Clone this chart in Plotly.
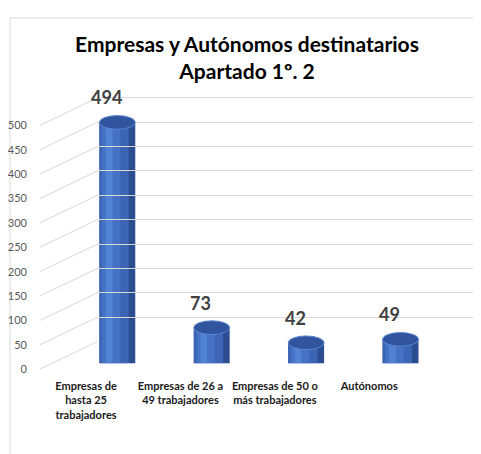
import plotly.graph_objects as go

categories = ["Empresas de hasta 25 trabajadores", "Empresas de 26 a 49 trabajadores",
              "Empresas de 50 o más trabajadores", "Autónomos"]
tick_text = ["<b>Empresas de<br>hasta 25<br>trabajadores</b>",
             "<b>Empresas de 26 a<br>49 trabajadores</b>",
             "<b>Empresas de 50 o<br>más trabajadores</b>", "<b>Autónomos</b>"]
values = [494, 73, 42, 49]
y_ticks = [0, 50, 100, 150, 200, 250, 300, 350, 400, 450, 500]

W, H = 481, 454
OFF_X, OFF_Y = 8, 2  # page offset seen in the screenshot
FONT = "Lato, 'Open Sans', sans-serif"
YMAX = 560


def px_x(p):
    return (p - OFF_X) / W


def px_y(p):
    return (H - (p - OFF_Y)) / H


# three vertical scales: bars (front), tick labels, back wall grid
bar_dom = [px_y(362), px_y(362 - YMAX * 0.494)]
lab_dom = [px_y(368), px_y(368 - YMAX * 0.494)]
grid_dom = [px_y(340), px_y(340 - YMAX * 0.494)]


def to_paper(v, dom):
    return dom[0] + v / YMAX * (dom[1] - dom[0])


fig = go.Figure()
# cylinder body, layered for shading
for w, off, col in [(0.38, -0.19, "#2D4D92"), (0.31, -0.19, "#3D65B5"),
                    (0.19, -0.16, "#4672C6"), (0.07, -0.12, "#5282D2")]:
    fig.add_trace(go.Bar(x=categories, y=values, width=w, offset=off,
                         marker=dict(color=col, line=dict(width=0)),
                         hoverinfo="skip", showlegend=False))
fig.add_trace(go.Scatter(x=[0, 1], y=[0, 0], xaxis="x3", yaxis="y3",
                         mode="markers", marker=dict(opacity=0), showlegend=False,
                         hoverinfo="skip"))
fig.add_trace(go.Scatter(x=[0], y=[0], xaxis="x2", yaxis="y2", mode="markers",
                         marker=dict(opacity=0), showlegend=False, hoverinfo="skip"))

shapes = []
for i, v in enumerate(values):
    # bottom and top ellipses of the cylinder
    shapes.append(dict(type="circle", xref="x", yref="y", x0=i - 0.19, x1=i + 0.19,
                       y0=-14, y1=14, fillcolor="#3A5FAE",
                       line=dict(width=0), layer="below"))
    shapes.append(dict(type="circle", xref="x", yref="y", x0=i - 0.19, x1=i + 0.19,
                       y0=v - 14, y1=v + 14, fillcolor="#30549E",
                       line=dict(color="#5A84CF", width=1), layer="above"))
for t in y_ticks:
    shapes.append(dict(type="line", xref="paper", yref="paper",
                       x0=px_x(37), x1=px_x(95),
                       y0=to_paper(t, lab_dom), y1=to_paper(t, grid_dom),
                       line=dict(color="#D9D9D9", width=1), layer="below"))
# chart frame
shapes.append(dict(type="rect", xref="paper", yref="paper", x0=px_x(7), x1=1.05,
                   y0=-0.05, y1=px_y(12), line=dict(color="#D9D9D9", width=1),
                   layer="below"))

annotations = []
for c, v in zip(categories, values):
    annotations.append(dict(x=c, y=v, xref="x", yref="y", text="<b>%d</b>" % v,
                            showarrow=False, yshift=25, xshift=-11,
                            font=dict(family=FONT, size=18, color="#404040")))

fig.update_layout(
    width=W, height=H,
    margin=dict(l=0, r=0, t=0, b=0),
    paper_bgcolor="white", plot_bgcolor="rgba(0,0,0,0)",
    barmode="overlay",
    title=dict(text="<b>Empresas y Autónomos destinatarios<br>Apartado 1º. 2</b>",
               x=px_x(247), xanchor="center", y=1 - 44 / H, yanchor="top",
               font=dict(family=FONT, size=21, color="#000000")),
    font=dict(family=FONT),
    xaxis=dict(domain=[px_x(67.5), px_x(447.5)], range=[-0.5, 3.5],
               showticklabels=False, showgrid=False, zeroline=False,
               showline=False, ticks=""),
    yaxis=dict(domain=bar_dom, range=[0, YMAX], showgrid=False, zeroline=False,
               showticklabels=False, showline=False),
    xaxis2=dict(domain=[px_x(36), px_x(416)], range=[-0.5, 3.5],
                anchor="free", position=px_y(377),
                tickmode="array", tickvals=[0, 1, 2, 3], ticktext=tick_text,
                showgrid=False, zeroline=False, showline=False, ticks="",
                tickfont=dict(family=FONT, size=11, color="#1A1A1A")),
    yaxis2=dict(domain=lab_dom, range=[0, YMAX], anchor="free", position=px_x(24),
                tickmode="array", tickvals=y_ticks,
                showgrid=False, zeroline=False, showline=False, ticks="",
                tickfont=dict(family=FONT, size=11, color="#595959")),
    xaxis3=dict(domain=[px_x(95), 1], range=[0, 1], visible=False, anchor="y3"),
    yaxis3=dict(domain=grid_dom, range=[0, YMAX], anchor="x3", tickvals=y_ticks,
                showticklabels=False, showgrid=True, gridcolor="#D9D9D9",
                zeroline=False, showline=False, ticks=""),
    shapes=shapes,
    annotations=annotations,
)

fig.write_html("out.html")
